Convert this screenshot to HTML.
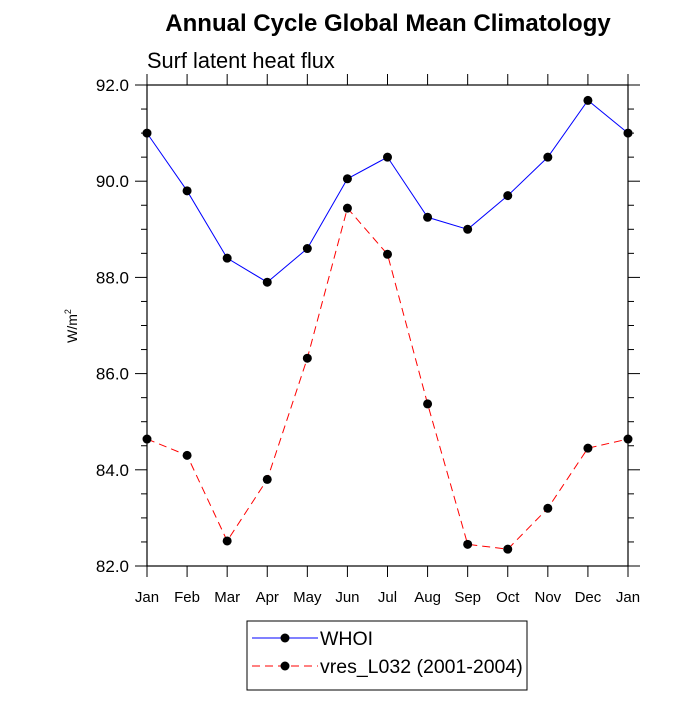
<!DOCTYPE html>
<html><head><meta charset="utf-8"><style>
body{margin:0;background:#fff;}
svg{font-family:"Liberation Sans",sans-serif;}
</style></head><body>
<svg id="c" width="700" height="700" xmlns="http://www.w3.org/2000/svg">
<text x="388" y="31" font-size="24" font-weight="bold" text-anchor="middle">Annual Cycle Global Mean Climatology</text>
<text x="147" y="68" font-size="21.8">Surf latent heat flux</text>
<text transform="translate(77,326) rotate(-90)" font-size="14" text-anchor="middle">W/m<tspan font-size="9" dy="-6">2</tspan></text>
<g id="axes"></g>
<g id="series"></g>
<g>
<rect x="247" y="621" width="280" height="69" fill="#fff" stroke="#000" stroke-width="1"/>
<line x1="252" y1="638" x2="318" y2="638" stroke="#00f" stroke-width="1"/>
<circle cx="285" cy="638" r="4.5" fill="#000"/>
<text x="320" y="645" font-size="19.5">WHOI</text>
<line x1="252" y1="666" x2="318" y2="666" stroke="#f00" stroke-width="1" stroke-dasharray="8,5"/>
<circle cx="285" cy="666" r="4.5" fill="#000"/>
<text x="320" y="673" font-size="19.5">vres_L032 (2001-2004)</text>
</g>
</svg>
<script>
const months=["Jan","Feb","Mar","Apr","May","Jun","Jul","Aug","Sep","Oct","Nov","Dec","Jan"];
const whoi=[91.0,89.8,88.4,87.9,88.6,90.05,90.5,89.25,89.0,89.7,90.5,91.68,91.0];
const vres=[84.64,84.3,82.52,83.8,86.32,89.44,88.48,85.37,82.45,82.35,83.2,84.45,84.64];
const yTicks=[82,84,86,88,90,92];
const yTickLabels=["82.0","84.0","86.0","88.0","90.0","92.0"];
const X0=147,X1=628,Y0=566,Y1=85,ymin=82,ymax=92;
const xs=i=>X0+(X1-X0)*i/(months.length-1);
const ys=v=>Y0-(v-ymin)/(ymax-ymin)*(Y0-Y1);
const NS="http://www.w3.org/2000/svg";
function mk(t,a,p){const e=document.createElementNS(NS,t);for(const k in a)e.setAttribute(k,a[k]);p.appendChild(e);return e;}
const ax=document.getElementById('axes');
const frame=mk('rect',{x:X0,y:Y1,width:X1-X0,height:Y0-Y1,fill:'none',stroke:'#000','stroke-width':1.2},ax);


for(let v=ymin;v<=ymax+1e-9;v+=0.5){
  const y=ys(v),maj=Math.abs(v-Math.round(v/2)*2)<1e-9,L=maj?12:6;
  mk('line',{x1:X0-L,y1:y,x2:X0,y2:y,stroke:'#000'},ax);
  mk('line',{x1:X1,y1:y,x2:X1+L,y2:y,stroke:'#000'},ax);
}
yTicks.forEach((v,i)=>{
  const t=mk('text',{x:X0-18,y:ys(v)+6,'font-size':17,'text-anchor':'end'},ax);
  t.textContent=yTickLabels[i];
  
  
});
months.forEach((m,i)=>{
  const x=xs(i);
  mk('line',{x1:x,y1:Y0,x2:x,y2:Y0+11,stroke:'#000'},ax);
  mk('line',{x1:x,y1:Y1-11,x2:x,y2:Y1,stroke:'#000'},ax);
  const t=mk('text',{x:x,y:602,'font-size':15,'text-anchor':'middle'},ax);
  t.textContent=m;
  
  
});
const sg=document.getElementById('series');
function draw(vals,color,dash,name){
  const g=mk('g',{},sg);
  
  
  const pts=vals.map((v,i)=>xs(i)+','+ys(v)).join(' ');
  const a={points:pts,fill:'none',stroke:color,'stroke-width':1};
  if(dash)a['stroke-dasharray']=dash;
  mk('polyline',a,g);
  vals.forEach((v,i)=>{
    const c=mk('circle',{cx:xs(i),cy:ys(v),r:4.5,fill:'#000'},g);
    
    
  });
}
draw(whoi,'#00f',null,'whoi-series');
draw(vres,'#f00','8,5','vres-series');
</script>
</body></html>
